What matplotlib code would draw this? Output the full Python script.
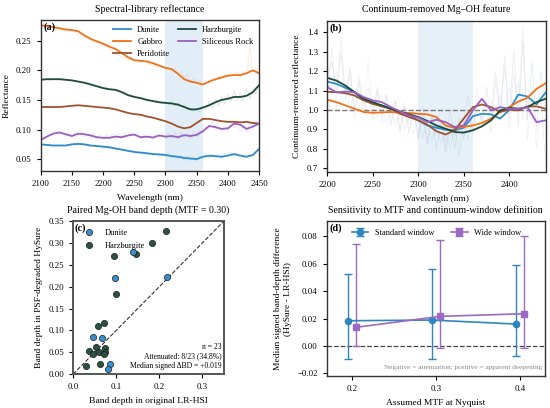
import numpy as np
import matplotlib
matplotlib.use("Agg")
import matplotlib.pyplot as plt

plt.rcParams['font.family'] = ['Liberation Serif', 'DejaVu Serif']
plt.rcParams['font.size'] = 6.8
plt.rcParams['axes.edgecolor'] = '#333333'
plt.rcParams['axes.linewidth'] = 1.0
plt.rcParams['xtick.labelsize'] = 6.3
plt.rcParams['ytick.labelsize'] = 6.3
plt.rcParams['xtick.major.size'] = 3
plt.rcParams['ytick.major.size'] = 3

# colours per rock type
col = {
    'Dunite': '#2E8BCB',
    'Gabbro': '#F07118',
    'Peridotite': '#A0522D',
    'Harzburgite': '#1D4B38',
    'Siliceous Rock': '#9A5FC3',
}
rocks = ['Dunite', 'Gabbro', 'Peridotite', 'Harzburgite', 'Siliceous Rock']

# ---- panel (a): library spectra, smoothed at 10 nm ----
wl_a = np.arange(2100, 2451, 10)
refl_dunite = [.075, .074, .073, .073, .073, .075, .0757, .075, .073, .072,
               .071, .070, .068, .066, .064, .062, .061, .060, .0585, .058,
               .057, .055, .054, .052, .051, .050, .054, .0557, .055, .054,
               .056, .0585, .056, .054, .057, .067]
refl_gabbro = [.276, .275, .273, .271, .269, .268, .266, .259, .253, .249,
               .245, .240, .236, .229, .222, .217, .216, .215, .212, .208,
               .204, .202, .194, .185, .181, .179, .176, .181, .185, .188,
               .191, .192, .192, .195, .200, .195]
refl_peridotite = [.138, .138, .138, .138, .139, .140, .141, .140, .139, .138,
                   .137, .136, .134, .131, .128, .126, .125, .122, .120, .117,
                   .114, .110, .105, .102, .104, .111, .118, .118, .116, .114,
                   .113, .113, .112, .113, .111, .110]
refl_harzburgite = [.184, .185, .185, .185, .184, .183, .181, .179, .176, .173,
                    .170, .168, .167, .163, .158, .155, .153, .150, .148, .146,
                    .145, .144, .142, .138, .134, .134, .137, .141, .146, .150,
                    .152, .155, .155, .157, .163, .175]
refl_siliceous = [.0825, .088, .093, .095, .092, .089, .093, .092, .090, .087,
                  .086, .086, .088, .087, .090, .0915, .087, .088, .0865, .090,
                  .088, .089, .087, .0905, .089, .091, .097, .106, .104, .101,
                  .102, .110, .108, .101, .105, .110]

# raw (unsmoothed) spectra at 5 nm, drawn faintly
wl_a_raw = np.arange(2100, 2451, 5)
raw_dunite = [.075, .074, .073, .075, .072, .074, .073, .075, .072, .074,
              .073, .077, .074, .076, .072, .075, .071, .074, .070, .073,
              .070, .072, .068, .070, .066, .069, .064, .066, .062, .065,
              .060, .064, .059, .063, .057, .061, .056, .060, .055, .059,
              .054, .060, .052, .058, .050, .057, .048, .056, .047, .055,
              .046, .057, .050, .060, .051, .059, .049, .058, .050, .061,
              .052, .062, .054, .061, .051, .059, .050, .058, .052, .062,
              .066]
raw_gabbro = [.277, .275, .274, .272, .273, .270, .269, .268, .266, .267,
              .266, .264, .263, .258, .256, .253, .251, .248, .246, .244,
              .243, .240, .236, .234, .230, .225, .222, .219, .218, .216,
              .216, .218, .213, .216, .212, .209, .211, .206, .208, .205,
              .204, .206, .200, .203, .195, .198, .188, .192, .182, .186,
              .177, .184, .175, .180, .178, .186, .182, .190, .184, .193,
              .188, .195, .190, .198, .187, .199, .192, .242, .196, .205,
              .193]
raw_harzburgite = [.184, .186, .185, .183, .186, .184, .185, .187, .184, .182,
                   .183, .181, .182, .180, .179, .181, .176, .177, .173, .174,
                   .170, .171, .167, .169, .166, .168, .162, .165, .158, .160,
                   .155, .157, .152, .155, .149, .151, .147, .150, .146, .143,
                   .147, .142, .146, .140, .145, .139, .141, .134, .137, .131,
                   .136, .130, .139, .133, .147, .136, .152, .140, .156, .143,
                   .160, .146, .165, .150, .162, .148, .170, .152, .168, .160,
                   .178]
raw_siliceous = [.083, .090, .087, .098, .092, .099, .090, .096, .088, .095,
                 .086, .097, .090, .096, .087, .094, .085, .093, .084, .091,
                 .083, .092, .084, .093, .086, .096, .085, .094, .088, .097,
                 .089, .096, .083, .092, .085, .093, .082, .094, .087, .095,
                 .084, .094, .085, .096, .083, .097, .085, .095, .084, .098,
                 .087, .099, .094, .104, .100, .113, .098, .110, .095, .108,
                 .097, .114, .102, .115, .096, .108, .094, .112, .099, .116,
                 .108]

# ---- panel (b): continuum-removed, smoothed at 10 nm ----
wl_b = np.arange(2200, 2441, 10)
cr_dunite = [1.147, 1.135, 1.115, 1.092, 1.055, 1.032, 1.024, 1.007, 0.990, 0.973,
             0.947, 0.921, 0.909, 0.899, 0.896, 0.909, 0.968, 0.981, 0.978, 0.956,
             1.000, 1.080, 1.070, 1.030, 1.090]
cr_gabbro = [1.053, 1.041, 1.024, 1.007, 0.990, 0.986, 0.988, 0.990, 0.986, 0.985,
             0.981, 0.978, 0.964, 0.921, 0.908, 0.913, 0.921, 0.933, 0.956, 0.990,
             1.015, 1.044, 1.063, 1.109, 1.138]
cr_peridotite = [1.094, 1.092, 1.087, 1.075, 1.050, 1.032, 1.019, 1.007, 0.981, 0.964,
                 0.947, 0.925, 0.891, 0.874, 0.896, 0.956, 1.015, 1.029, 1.015, 0.990,
                 1.002, 0.998, 1.019, 1.019, 1.007]
cr_harzburgite = [1.166, 1.152, 1.126, 1.092, 1.058, 1.041, 1.024, 1.007, 0.993, 0.978,
                  0.964, 0.944, 0.921, 0.904, 0.887, 0.884, 0.896, 0.916, 0.947, 0.998,
                  1.012, 1.007, 1.015, 1.041, 1.058]
cr_siliceous = [1.118, 1.092, 1.095, 1.092, 1.067, 1.050, 1.041, 1.015, 0.993, 0.973,
                0.961, 0.938, 0.950, 0.938, 0.913, 0.921, 0.998, 1.058, 0.998, 1.015,
                1.007, 1.007, 1.015, 0.938, 0.947]

wl_b_raw = np.arange(2200, 2441, 5)
cr_raw_dunite = [1.15, 1.08, 1.20, 1.05, 1.12, 1.00, 1.10, 1.02, 1.06, 0.98,
                 1.04, 0.96, 1.02, 0.94, 1.00, 0.92, 0.99, 0.90, 0.97, 0.88,
                 0.95, 0.86, 0.93, 0.84, 0.91, 0.83, 0.90, 0.80, 0.92, 0.76,
                 0.95, 0.85, 1.00, 0.90, 0.98, 0.92, 1.05, 0.95, 1.08, 0.98,
                 1.12, 1.00, 1.15, 0.95, 1.05, 1.00, 1.10, 1.05, 1.12]
cr_raw_harzburgite = [1.17, 1.25, 1.10, 1.30, 1.05, 1.20, 1.00, 1.15, 0.98, 1.12,
                      0.95, 1.10, 0.97, 1.08, 0.92, 1.05, 0.90, 1.02, 0.88, 1.00,
                      0.85, 0.98, 0.82, 0.96, 0.80, 0.94, 0.78, 0.92, 0.80, 0.96,
                      0.85, 1.00, 0.88, 1.05, 0.92, 1.12, 0.95, 1.20, 0.98, 1.28,
                      0.96, 1.30, 0.92, 1.35, 0.95, 1.25, 0.90, 1.20, 1.02]
cr_raw_siliceous = [1.05, 1.32, 1.00, 1.38, 1.08, 1.22, 0.95, 1.18, 1.02, 1.25,
                    0.98, 1.12, 0.93, 1.08, 0.96, 1.05, 0.88, 1.04, 0.92, 0.99,
                    0.87, 1.02, 0.84, 0.97, 0.90, 0.95, 0.82, 1.00, 0.86, 0.93,
                    0.95, 1.08, 0.90, 1.12, 0.94, 1.05, 0.88, 1.15, 0.97, 1.22,
                    0.90, 1.18, 1.00, 1.43, 0.85, 1.10, 0.80, 1.05, 0.72]

# ---- panel (c): paired band depths ----
dun_orig = [0.140, 0.098, 0.219, 0.046, 0.066, 0.086, 0.080]
dun_hys = [0.279, 0.221, 0.223, 0.084, 0.083, 0.023, 0.011]
harz_orig = [0.215, 0.182, 0.145, 0.094, 0.100, 0.071, 0.057, 0.052, 0.036,
             0.047, 0.060, 0.075, 0.075, 0.072, 0.063, 0.029]
harz_hys = [0.328, 0.300, 0.275, 0.271, 0.183, 0.118, 0.110, 0.063, 0.053,
            0.047, 0.051, 0.060, 0.051, 0.046, 0.024, 0.019]

# ---- panel (d): sensitivity ----
mtf = np.array([0.2, 0.3, 0.4])
std_med = np.array([0.0184, 0.0189, 0.0160])
std_lo = np.array([-0.0095, -0.0095, -0.0073])
std_hi = np.array([0.0526, 0.0558, 0.0592])
wide_med = np.array([0.0136, 0.0216, 0.0235])
wide_lo = np.array([0.0000, -0.0012, -0.0017])
wide_hi = np.array([0.0742, 0.0771, 0.0802])

fig = plt.figure(figsize=(5.5, 4.08), dpi=100)
ax_a = fig.add_axes([0.074, 0.581, 0.397, 0.370])
ax_b = fig.add_axes([0.595, 0.578, 0.397, 0.371])
ax_c = fig.add_axes([0.133, 0.083, 0.274, 0.375])
ax_d = fig.add_axes([0.594, 0.078, 0.397, 0.380])

title_fs = 7.1
leg_fs = 6.0

# (a)
ax_a.axvspan(2300, 2360, color='#d5e7f4', alpha=0.7, lw=0)
raw_a = {'Dunite': raw_dunite, 'Gabbro': raw_gabbro,
         'Harzburgite': raw_harzburgite, 'Siliceous Rock': raw_siliceous}
for name, vals in raw_a.items():
    ax_a.plot(wl_a_raw, vals, color=col[name], lw=0.6, alpha=0.15)
smooth_a = [refl_dunite, refl_gabbro, refl_peridotite, refl_harzburgite, refl_siliceous]
for name, vals in zip(rocks, smooth_a):
    ax_a.plot(wl_a, vals, color=col[name], lw=1.3, label=name)
ax_a.set_xlim(2100, 2450)
ax_a.set_ylim(0.03, 0.285)
ax_a.set_xticks(np.arange(2100, 2451, 50))
ax_a.set_yticks([0.05, 0.10, 0.15, 0.20, 0.25])
ax_a.set_xlabel('Wavelength (nm)')
ax_a.set_ylabel('Reflectance')
ax_a.set_title('Spectral-library reflectance', fontsize=title_fs)
ax_a.legend(ncol=2, frameon=False, fontsize=leg_fs, loc='upper right',
            handlelength=2.2, handletextpad=0.7, columnspacing=0.9,
            labelspacing=0.5, borderaxespad=0.3)
ax_a.text(0.012, 0.985, '(a)', transform=ax_a.transAxes, fontweight='bold',
          va='top', ha='left', fontsize=7.3)

# (b)
ax_b.axvspan(2300, 2360, color='#d5e7f4', alpha=0.6, lw=0)
raw_b = {'Dunite': cr_raw_dunite, 'Harzburgite': cr_raw_harzburgite,
         'Siliceous Rock': cr_raw_siliceous}
for name, vals in raw_b.items():
    ax_b.plot(wl_b_raw, vals, color=col[name], lw=0.6, alpha=0.1)
ax_b.axhline(1.0, color='#777777', ls='--', lw=1.0)
smooth_b = [cr_dunite, cr_gabbro, cr_peridotite, cr_harzburgite, cr_siliceous]
for name, vals in zip(rocks, smooth_b):
    ax_b.plot(wl_b, vals, color=col[name], lw=1.3)
ax_b.set_xlim(2200, 2440)
ax_b.set_ylim(0.68, 1.46)
ax_b.set_xticks(np.arange(2200, 2401, 50))
ax_b.set_yticks(np.arange(0.7, 1.41, 0.1))
ax_b.set_xlabel('Wavelength (nm)')
ax_b.set_ylabel('Continuum-removed reflectance')
ax_b.set_title('Continuum-removed Mg\u2013OH feature', fontsize=title_fs)
ax_b.text(0.012, 0.985, '(b)', transform=ax_b.transAxes, fontweight='bold',
          va='top', ha='left', fontsize=7.3)

# (c)
ax_c.plot([0, 0.35], [0, 0.35], color='#333333', ls='--', lw=0.8)
ax_c.scatter(harz_orig, harz_hys, s=20, color='#2A5240', edgecolor='#1a1a1a',
             lw=0.5, label='Harzburgite', zorder=3)
ax_c.scatter(dun_orig, dun_hys, s=20, color='#3A8FD0', edgecolor='#1a1a1a',
             lw=0.5, label='Dunite', zorder=3)
ax_c.set_xlim(0, 0.35)
ax_c.set_ylim(0, 0.35)
ax_c.set_xticks([0.0, 0.1, 0.2, 0.3])
ax_c.set_yticks(np.arange(0, 0.351, 0.05))
ax_c.set_xlabel('Band depth in original LR-HSI')
ax_c.set_ylabel('Band depth in PSF-degraded HySure')
ax_c.set_title('Paired Mg-OH band depth (MTF = 0.30)', fontsize=title_fs)
h, l = ax_c.get_legend_handles_labels()
ax_c.legend(h[::-1], l[::-1], frameon=False, fontsize=leg_fs, loc='upper left',
            handletextpad=0.9, labelspacing=0.6)
ax_c.text(0.012, 0.985, '(c)', transform=ax_c.transAxes, fontweight='bold',
          va='top', ha='left', fontsize=7.3)
ax_c.text(0.985, 0.03, 'n = 23\nAttenuated: 8/23 (34.8%)\nMedian signed \u0394BD = +0.019',
          transform=ax_c.transAxes, ha='right', va='bottom', fontsize=5.5,
          linespacing=1.2)
for s in ax_c.spines.values():
    s.set_color('#555555')
    s.set_linewidth(1.4)

# (d)
ax_d.axhline(0, color='#444444', ls='--', lw=0.9)
ax_d.errorbar(mtf - 0.005, std_med, yerr=[std_med - std_lo, std_hi - std_med],
              color='#2E86C1', marker='o', ms=4.5, lw=1.2, capsize=3,
              elinewidth=1.0, label='Standard window')
ax_d.errorbar(mtf + 0.005, wide_med, yerr=[wide_med - wide_lo, wide_hi - wide_med],
              color='#9A6AC6', marker='s', ms=4.5, lw=1.2, capsize=3,
              elinewidth=1.0, label='Wide window')
ax_d.set_xlim(0.17, 0.43)
ax_d.set_ylim(-0.022, 0.091)
ax_d.set_xticks([0.2, 0.3, 0.4])
ax_d.set_yticks([-0.02, 0.0, 0.02, 0.04, 0.06, 0.08])
ax_d.set_xlabel('Assumed MTF at Nyquist')
ax_d.set_ylabel('Median signed band-depth difference\n(HySure - LR-HSI)')
ax_d.set_title('Sensitivity to MTF and continuum-window definition', fontsize=title_fs)
ax_d.legend(ncol=2, frameon=False, fontsize=leg_fs, loc='upper left',
            bbox_to_anchor=(0.08, 1.0), columnspacing=2.0, handletextpad=0.8)
ax_d.text(0.012, 0.985, '(d)', transform=ax_d.transAxes, fontweight='bold',
          va='top', ha='left', fontsize=7.3)
ax_d.text(0.985, 0.04, 'Negative = attenuation; positive = apparent deepening',
          transform=ax_d.transAxes, ha='right', va='bottom', fontsize=5.2,
          color='#888888')

fig.savefig('out.png', dpi=100)
